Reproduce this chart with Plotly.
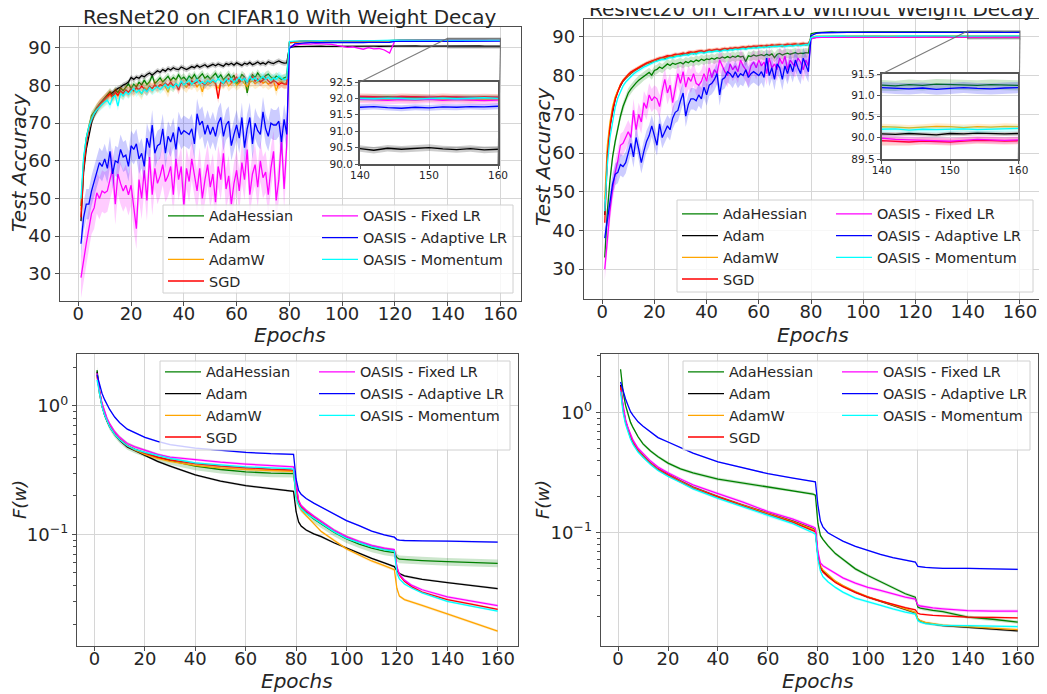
import plotly.graph_objects as go

W, H = 1047, 694
OFF = 8  # page offset of the plot div
FONT = "DejaVu Sans"
TXT = "#262626"
SPINE = "#4d4d4d"
GRID = "#d6d6d6"

SERIES = ["AdaHessian", "Adam", "AdamW", "SGD",
          "OASIS - Fixed LR", "OASIS - Adaptive LR", "OASIS - Momentum"]
COLORS = ["#008000", "#000000", "#FFA500", "#FF0000", "#FF00FF", "#0000FF", "#00FFFF"]

EPOCHS_EARLY = list(range(1, 80))
EPOCHS_LATE = list(range(80, 161, 2))
LOSS_EPOCHS = [1, 2, 3, 4, 5, 6, 8, 10, 13, 16, 20, 25, 30, 40, 50, 60, 70, 78, 79, 80,
               81, 82, 84, 87, 90, 95, 100, 105, 110, 115, 119, 120, 121, 123, 126, 130,
               140, 150, 160]
EPOCH_TICKS = [0, 20, 40, 60, 80, 100, 120, 140, 160]
ACC_TICKS = [30, 40, 50, 60, 70, 80, 90]

# ---------------- Test accuracy, with weight decay ----------------
acc_wd_adahessian_early = [48, 60, 66, 69.5, 72, 73, 74.2, 75, 75.8, 76.5,
                           77.2, 78.3, 77.5, 78.8, 78.1, 79.3, 78.6, 79.5, 80.4, 79.2,
                           80.3, 79.6, 80.8, 80.1, 81.4, 80.2, 81.0, 82.6, 80.5, 81.2,
                           82.0, 80.9, 81.6, 82.4, 81.3, 82.1, 81.5, 82.8, 81.7, 82.2,
                           81.3, 82.5, 81.8, 82.9, 81.6, 82.3, 83.1, 81.9, 82.5, 81.7,
                           82.6, 83.2, 82.0, 82.8, 81.5, 82.4, 83.0, 81.9, 82.7, 80.2,
                           81.5, 82.9, 82.2, 78.0, 81.6, 82.8, 82.1, 83.3, 82.3, 81.8,
                           82.6, 83.0, 82.2, 81.7, 82.5, 82.1, 81.6, 82.0, 82.3]
acc_wd_adam_early = [44, 57, 63, 67, 70, 72, 73.5, 74.6, 75.5, 76.4,
                     77.0, 77.6, 78.2, 78.6, 79.2, 79.5, 80.1, 80.4, 80.9, 82.1,
                     81.6, 82.2, 81.9, 82.6, 82.3, 82.9, 83.3, 82.7, 83.4, 83.9,
                     83.5, 84.2, 83.8, 84.5, 84.1, 84.7, 84.3, 84.2, 84.9, 84.5,
                     84.2, 84.6, 85.0, 84.7, 85.3, 84.8, 85.1, 85.5, 84.9, 85.3,
                     85.6, 85.2, 85.7, 85.4, 85.1, 85.8, 85.5, 85.9, 85.4, 86.0,
                     85.7, 85.3, 85.9, 85.6, 86.1, 85.5, 85.8, 86.2, 85.7, 86.0,
                     85.6, 86.3, 86.0, 85.8, 86.2, 86.5, 86.1, 85.9, 86.0]
acc_wd_adamw_early = [47, 59, 65, 69, 71.5, 72.8, 73.8, 74.8, 75.5, 76.2,
                      76.8, 77.5, 76.5, 77.9, 77.2, 78.3, 77.6, 78.8, 78.1, 79.0,
                      78.4, 79.3, 78.7, 77.6, 79.5, 78.9, 79.8, 79.1, 80.2, 79.4,
                      79.9, 80.5, 79.6, 78.2, 80.3, 79.7, 80.6, 79.8, 80.8, 80.1,
                      79.5, 80.7, 80.2, 81.0, 79.6, 80.5, 78.3, 80.9, 80.2, 80.6,
                      81.1, 80.3, 79.2, 80.8, 80.4, 81.2, 79.9, 80.6, 81.0, 80.1,
                      80.7, 81.3, 80.4, 79.7, 80.9, 81.2, 80.5, 80.9, 81.4, 80.6,
                      81.0, 80.3, 80.8, 81.2, 78.6, 80.7, 81.1, 80.4, 80.8]
acc_wd_sgd_early = [45, 58, 64.5, 68.5, 71, 72.5, 73.8, 74.9, 75.7, 76.3,
                    77.0, 77.8, 76.9, 78.2, 77.4, 78.6, 77.9, 78.8, 78.2, 79.1,
                    78.6, 79.4, 78.9, 79.8, 79.1, 78.4, 79.7, 79.2, 80.1, 79.5,
                    80.2, 79.8, 80.6, 80.0, 80.9, 79.9, 80.4, 78.8, 80.8, 80.2,
                    80.7, 80.1, 81.2, 80.5, 80.9, 81.3, 80.6, 80.2, 81.1, 80.7,
                    81.4, 80.8, 76.5, 81.0, 80.5, 81.3, 81.8, 80.9, 81.5, 82.2,
                    81.0, 81.4, 82.1, 80.8, 81.6, 82.3, 81.1, 81.7, 80.9, 81.5,
                    82.0, 81.2, 80.6, 81.3, 80.9, 80.2, 80.7, 80.4, 80.3]
acc_wd_fixed_early = [29, 34, 38, 42, 46, 47.5, 51.5, 50, 52, 51.5,
                      52, 55, 58, 48.5, 56.5, 54, 52, 53.5, 51, 53.5,
                      47, 42, 55, 50, 57.5, 49.5, 61, 51, 58, 54,
                      56, 59, 54.5, 56, 58.5, 51, 60.5, 55, 58.5, 48,
                      58, 54.5, 60.5, 56, 52, 58, 50, 55, 59, 53,
                      56.5, 49, 58.5, 55, 62, 52.5, 56, 48.5, 54, 57.5,
                      52, 59.5, 55, 63, 51, 56.5, 59, 53, 60, 55.5,
                      57, 51, 58, 62.5, 49.5, 55, 66, 52.5, 64]
acc_wd_adaptive_early = [38, 45, 48.5, 48.5, 52, 54.5, 57, 59.5, 58.5, 60.5,
                         58, 62.5, 56.5, 60, 59.5, 63, 61, 61.5, 58.5, 64,
                         63, 64.5, 60.5, 62, 58.5, 66, 63.5, 69.5, 62, 64,
                         64.5, 68.5, 62, 66.5, 65, 67.5, 63, 69, 67, 68,
                         67.5, 67, 68.5, 64.5, 72.5, 69.5, 70.5, 67, 69.5, 67,
                         69, 66.5, 70, 71.5, 66.5, 69.5, 70.5, 64, 67, 69.5,
                         66, 71.5, 63.5, 68.5, 71.5, 64.5, 70, 68, 67, 73,
                         68.5, 66.5, 70, 69.5, 69.5, 70.5, 65, 71, 67]
acc_wd_momentum_early = [50, 61, 66, 69, 71, 72.5, 73.5, 74.3, 75, 75.6,
                         76.1, 74.8, 76.8, 77.3, 74.5, 77.9, 77.2, 78.3, 77.6, 78.5,
                         79.2, 78.1, 78.8, 77.9, 79.0, 78.3, 79.4, 78.6, 79.1, 79.7,
                         78.9, 79.6, 80.3, 79.2, 80.0, 79.4, 80.5, 79.8, 81.2, 80.1,
                         80.7, 81.4, 80.3, 80.9, 81.6, 80.5, 81.0, 80.4, 81.3, 80.8,
                         81.5, 80.9, 81.8, 81.2, 80.6, 81.7, 81.1, 81.9, 80.8, 81.4,
                         82.1, 81.3, 81.9, 80.9, 82.3, 81.5, 82.0, 81.2, 81.8, 82.4,
                         81.6, 82.2, 81.4, 82.0, 81.6, 82.5, 81.9, 81.5, 81.8]

acc_wd_adahessian_late = [91.3, 91.6, 91.7, 91.75, 91.8, 91.78, 91.82, 91.85, 91.8, 91.83,
                          91.86, 91.84, 91.88, 91.85, 91.87, 91.9, 91.86, 91.88, 91.9, 91.87,
                          92.0, 92.02, 92.04, 92.01, 92.03, 92.05, 92.02, 92.04, 92.01, 92.03,
                          92.02, 92.04, 92.05, 92.02, 92.04, 92.03, 92.01, 92.03, 92.04, 92.02, 92.03]
acc_wd_adam_late = [90.1, 90.3, 90.35, 90.4, 90.35, 90.4, 90.42, 90.38, 90.4, 90.45,
                    90.4, 90.43, 90.38, 90.42, 90.4, 90.45, 90.41, 90.39, 90.43, 90.4,
                    90.46, 90.44, 90.47, 90.45, 90.48, 90.44, 90.46, 90.47, 90.44, 90.46,
                    90.47, 90.42, 90.48, 90.45, 90.47, 90.5, 90.46, 90.44, 90.47, 90.43, 90.45]
acc_wd_adamw_late = [91.2, 91.5, 91.6, 91.65, 91.7, 91.68, 91.72, 91.7, 91.75, 91.72,
                     91.74, 91.7, 91.73, 91.76, 91.72, 91.75, 91.74, 91.77, 91.73, 91.75,
                     91.95, 91.97, 91.96, 91.98, 91.95, 91.97, 91.99, 91.96, 91.98, 91.95,
                     91.97, 91.96, 91.98, 91.97, 91.95, 91.98, 91.96, 91.97, 91.95, 91.98, 91.97]
acc_wd_sgd_late = [91.4, 91.65, 91.72, 91.78, 91.8, 91.82, 91.79, 91.84, 91.81, 91.85,
                   91.83, 91.86, 91.82, 91.85, 91.84, 91.87, 91.83, 91.86, 91.85, 91.88,
                   92.05, 92.06, 92.04, 92.07, 92.05, 92.03, 92.06, 92.05, 92.07, 92.04,
                   92.06, 92.05, 92.03, 92.06, 92.05, 92.04, 92.06, 92.05, 92.03, 92.05, 92.04]
acc_wd_fixed_late = [90.3, 90.7, 90.9, 91.0, 90.95, 91.1, 91.0, 91.05, 90.9, 90.6,
                     90.3, 90.1, 90.2, 89.9, 89.6, 90.0, 89.7, 89.8, 89.4, 88.6,
                     91.9, 91.95, 91.97, 91.93, 91.96, 91.98, 91.94, 91.96, 91.95, 91.93,
                     91.97, 91.95, 91.94, 91.96, 91.95, 91.97, 91.94, 91.96, 91.95, 91.93, 91.95]
acc_wd_adaptive_late = [89.8, 91.0, 91.2, 91.3, 91.35, 91.3, 91.38, 91.35, 91.4, 91.37,
                        91.42, 91.38, 91.4, 91.43, 91.39, 91.41, 91.44, 91.4, 91.42, 91.45,
                        91.7, 91.72, 91.7, 91.74, 91.71, 91.73, 91.7, 91.72, 91.74, 91.71,
                        91.73, 91.75, 91.72, 91.7, 91.73, 91.71, 91.74, 91.73, 91.75, 91.74, 91.76]
acc_wd_momentum_late = [91.6, 91.75, 91.8, 91.83, 91.85, 91.82, 91.86, 91.84, 91.87, 91.85,
                        91.88, 91.86, 91.84, 91.87, 91.85, 91.88, 91.86, 91.84, 91.87, 91.86,
                        91.98, 92.0, 91.99, 92.01, 91.98, 92.0, 92.02, 91.99, 92.01, 91.98,
                        92.0, 91.99, 92.01, 92.0, 91.98, 92.0, 92.01, 91.99, 92.0, 92.02, 92.0]

acc_wd_band_early = [1.0, 0.7, 1.5, 1.2, 5.5, 4.0, 1.2]
acc_wd_band_late = [0.08, 0.1, 0.08, 0.09, 0.12, 0.09, 0.06]

# ---------------- Test accuracy, without weight decay ----------------
acc_nowd_adahessian_early = [33, 45, 53, 59, 63, 66.5, 69.5, 72, 74, 75.5,
                             76.5, 77.4, 78.1, 78.8, 79.3, 79.9, 80.4, 80.8, 80.1, 81.3,
                             81.6, 82.2, 81.8, 82.5, 83.0, 82.6, 83.2, 82.9, 83.1, 83.4,
                             83.0, 83.6, 83.3, 83.8, 83.5, 84.0, 83.7, 84.2, 83.9, 84.3,
                             84.1, 84.5, 84.2, 84.6, 84.4, 84.8, 84.5, 84.9, 84.6, 85.0,
                             84.7, 85.1, 84.8, 85.0, 83.6, 85.1, 84.9, 85.3, 85.0, 85.2,
                             85.4, 85.1, 85.5, 85.2, 85.6, 84.6, 85.5, 85.7, 85.3, 85.6,
                             85.8, 85.5, 85.7, 85.9, 85.6, 85.8, 85.7, 85.9, 85.8]
acc_nowd_adam_early = [44, 60, 67, 71, 74, 76, 77.5, 78.6, 79.3, 80.0,
                       80.6, 81.1, 81.5, 82.0, 82.4, 82.7, 83.1, 83.3, 83.6, 83.9,
                       84.1, 84.3, 84.5, 84.4, 84.8, 85.0, 84.9, 85.2, 85.4, 85.3,
                       85.6, 85.5, 85.8, 85.9, 85.7, 86.0, 86.1, 86.2, 86.0, 86.3,
                       86.4, 86.3, 86.5, 86.6, 86.4, 86.7, 86.8, 86.6, 86.9, 86.8,
                       87.0, 86.9, 87.1, 87.2, 87.0, 87.3, 87.2, 87.4, 87.3, 87.4,
                       87.5, 87.4, 87.6, 87.5, 87.7, 87.6, 87.7, 87.8, 87.6, 87.8,
                       87.9, 87.8, 87.9, 88.0, 87.9, 88.0, 88.1, 88.0, 88.1]
acc_nowd_adamw_early = [48, 62, 68, 72, 74.5, 76.3, 77.7, 78.8, 79.5, 80.2,
                        80.8, 81.2, 81.7, 82.1, 82.5, 82.8, 83.0, 83.4, 83.7, 83.8,
                        84.2, 84.4, 84.3, 84.7, 84.9, 84.8, 85.1, 85.3, 85.2, 85.5,
                        85.7, 85.6, 85.9, 85.8, 86.1, 86.0, 86.2, 86.3, 86.1, 86.4,
                        86.5, 86.4, 86.6, 86.5, 86.7, 86.8, 86.7, 86.9, 86.8, 87.0,
                        87.1, 86.9, 87.2, 87.1, 87.3, 87.2, 87.4, 87.3, 87.5, 87.4,
                        87.6, 87.5, 87.7, 87.6, 87.8, 87.7, 87.8, 87.9, 87.7, 87.9,
                        88.0, 87.9, 88.0, 88.1, 87.9, 88.1, 88.2, 88.0, 88.1]
acc_nowd_sgd_early = [42, 59, 66.5, 71, 73.8, 76, 77.6, 78.7, 79.6, 80.3,
                      80.9, 81.3, 81.8, 82.2, 82.6, 82.9, 83.2, 83.5, 83.8, 84.1,
                      84.3, 84.5, 84.6, 84.8, 85.1, 85.0, 85.3, 85.5, 85.4, 85.7,
                      85.8, 85.6, 86.0, 86.1, 85.9, 86.2, 86.3, 86.4, 86.2, 86.5,
                      86.6, 86.5, 86.7, 86.8, 86.6, 86.9, 87.0, 86.8, 87.1, 87.0,
                      87.2, 87.1, 87.3, 87.4, 87.2, 87.5, 87.4, 87.6, 87.5, 87.6,
                      87.7, 87.6, 87.8, 87.7, 87.9, 87.8, 87.9, 88.0, 87.8, 88.0,
                      88.1, 88.0, 88.1, 88.2, 88.0, 88.2, 88.3, 88.1, 88.2]
acc_nowd_fixed_early = [30, 38, 45, 50.5, 55, 58, 62, 62.5, 64, 65.5,
                        64, 71, 66, 70, 68, 73, 71.5, 75, 73.5, 74.5,
                        74, 72, 76, 79, 75.5, 77.5, 73, 76.5, 80.5, 78,
                        81, 77, 79.5, 78.5, 80.5, 78, 77.5, 78.5, 80.5, 78.5,
                        82, 79.5, 81.5, 80.5, 84, 82.5, 81, 80, 83, 81.5,
                        82.5, 81, 84, 82.5, 81.5, 80, 82.5, 83.5, 82, 84,
                        82.5, 83.5, 80.5, 84.5, 82, 83, 81.5, 84.5, 83, 85,
                        81.5, 84, 83, 82.5, 84.5, 83.5, 81.5, 84, 82.5]
acc_nowd_adaptive_early = [38, 43, 48, 52, 54.5, 55, 57, 56.5, 57.5, 60,
                           62.5, 59, 64, 61, 57.5, 60.5, 63, 64.5, 67, 64.5,
                           62, 67.5, 64, 65.5, 67, 66, 69, 70.5, 71, 73.5,
                           75.5, 69.5, 72.5, 74, 74, 73.5, 75, 74, 77, 75,
                           77.5, 78, 79, 80.5, 75, 79, 79.5, 81, 80.5, 79.5,
                           81, 79.5, 80.5, 80, 81.5, 79.5, 80.5, 81, 80.5, 80,
                           81, 79.5, 84.5, 80, 82, 79, 83, 82, 79, 82.5,
                           80.5, 83, 81, 84, 82, 80.5, 84.5, 82.5, 81]
acc_nowd_momentum_early = [45, 57, 64, 68.5, 71.8, 74.2, 76, 77.3, 78.3, 79.1,
                           79.8, 80.4, 80.9, 81.4, 81.8, 82.2, 82.5, 82.9, 83.2, 83.5,
                           83.7, 84.0, 84.2, 84.1, 84.5, 84.7, 84.6, 84.9, 85.1, 85.0,
                           85.3, 85.4, 85.2, 85.6, 85.7, 85.5, 85.9, 86.0, 85.8, 86.1,
                           86.2, 86.1, 86.3, 86.4, 86.2, 86.5, 86.6, 86.4, 86.7, 86.6,
                           86.8, 86.7, 86.9, 87.0, 86.8, 87.1, 87.0, 87.2, 87.1, 87.3,
                           87.2, 87.4, 87.3, 87.5, 87.4, 87.6, 87.5, 87.6, 87.7, 87.5,
                           87.7, 87.8, 87.6, 87.8, 87.9, 87.7, 87.9, 88.0, 87.9]

acc_nowd_adahessian_late = [90.8, 91.1, 91.2, 91.22, 91.25, 91.23, 91.26, 91.24, 91.27, 91.25,
                            91.23, 91.26, 91.24, 91.27, 91.25, 91.24, 91.26, 91.23, 91.25, 91.27,
                            91.25, 91.24, 91.26, 91.23, 91.25, 91.24, 91.27, 91.25, 91.23, 91.26,
                            91.24, 91.22, 91.25, 91.23, 91.26, 91.25, 91.24, 91.23, 91.25, 91.24, 91.23]
acc_nowd_adam_late = [89.7, 90.0, 90.05, 90.07, 90.08, 90.07, 90.09, 90.08, 90.1, 90.07,
                      90.09, 90.08, 90.1, 90.09, 90.07, 90.1, 90.08, 90.09, 90.11, 90.08,
                      90.1, 90.08, 90.09, 90.07, 90.1, 90.08, 90.09, 90.11, 90.08, 90.1,
                      90.09, 90.08, 90.1, 90.09, 90.07, 90.1, 90.09, 90.11, 90.1, 90.09, 90.1]
acc_nowd_adamw_late = [89.9, 90.15, 90.2, 90.22, 90.24, 90.23, 90.25, 90.24, 90.26, 90.23,
                       90.25, 90.24, 90.26, 90.25, 90.23, 90.26, 90.24, 90.25, 90.27, 90.24,
                       90.25, 90.23, 90.22, 90.26, 90.27, 90.25, 90.24, 90.26, 90.25, 90.24,
                       90.26, 90.25, 90.23, 90.25, 90.27, 90.26, 90.24, 90.26, 90.25, 90.27, 90.26]
acc_nowd_sgd_late = [89.6, 89.85, 89.88, 89.9, 89.92, 89.9, 89.93, 89.91, 89.92, 89.9,
                     89.93, 89.91, 89.92, 89.94, 89.91, 89.93, 89.92, 89.9, 89.93, 89.92,
                     89.92, 89.93, 89.94, 89.92, 89.91, 89.93, 89.92, 89.94, 89.93, 89.92,
                     89.93, 89.91, 89.9, 89.92, 89.91, 89.9, 89.92, 89.94, 89.93, 89.92, 89.93]
acc_nowd_fixed_late = [89.5, 89.8, 89.88, 89.9, 89.92, 89.91, 89.93, 89.92, 89.94, 89.91,
                       89.93, 89.92, 89.94, 89.93, 89.91, 89.94, 89.92, 89.93, 89.95, 89.92,
                       89.94, 89.93, 89.95, 89.93, 89.92, 89.94, 89.96, 89.95, 89.93, 89.94,
                       89.99, 89.96, 89.95, 89.94, 89.93, 89.92, 89.94, 89.96, 89.95, 89.94, 89.95]
acc_nowd_adaptive_late = [90.3, 90.9, 91.05, 91.1, 91.12, 91.14, 91.12, 91.15, 91.13, 91.16,
                          91.14, 91.12, 91.15, 91.17, 91.14, 91.16, 91.13, 91.15, 91.17, 91.14,
                          91.16, 91.15, 91.14, 91.16, 91.15, 91.17, 91.16, 91.15, 91.17, 91.16,
                          91.18, 91.16, 91.15, 91.17, 91.14, 91.16, 91.18, 91.16, 91.15, 91.17, 91.18]
acc_nowd_momentum_late = [89.8, 90.1, 90.15, 90.18, 90.2, 90.19, 90.21, 90.2, 90.22, 90.19,
                          90.21, 90.2, 90.22, 90.21, 90.19, 90.22, 90.2, 90.21, 90.23, 90.2,
                          90.22, 90.2, 90.21, 90.23, 90.21, 90.2, 90.22, 90.2, 90.19, 90.21,
                          90.2, 90.21, 90.18, 90.2, 90.19, 90.2, 90.21, 90.19, 90.2, 90.21, 90.22]

acc_nowd_band_early = [1.2, 0.4, 0.5, 0.5, 3.0, 2.8, 0.5]
acc_nowd_band_late = [0.12, 0.05, 0.07, 0.08, 0.08, 0.13, 0.07]

# ---------------- Training loss F(w), with weight decay ----------------
loss_wd_adahessian = [1.9, 1.3, 1.02, 0.87, 0.77, 0.7, 0.61, 0.55, 0.49, 0.46, 0.43,
                      0.4, 0.375, 0.34, 0.32, 0.307, 0.30, 0.298, 0.297, 0.2, 0.172, 0.16,
                      0.147, 0.132, 0.12, 0.104, 0.092, 0.084, 0.078, 0.074, 0.072, 0.066,
                      0.064, 0.0635, 0.063, 0.0625, 0.0612, 0.060, 0.0595]
loss_wd_adam = [1.85, 1.25, 1.0, 0.85, 0.76, 0.69, 0.6, 0.54, 0.48, 0.45, 0.415,
                0.37, 0.34, 0.29, 0.26, 0.24, 0.227, 0.218, 0.216, 0.15, 0.125, 0.116,
                0.108, 0.101, 0.096, 0.086, 0.078, 0.071, 0.065, 0.060, 0.056, 0.052,
                0.0495, 0.0475, 0.046, 0.0445, 0.042, 0.040, 0.0378]
loss_wd_adamw = [1.75, 1.25, 1.0, 0.86, 0.77, 0.7, 0.61, 0.55, 0.49, 0.455, 0.42,
                 0.39, 0.37, 0.345, 0.33, 0.32, 0.313, 0.31, 0.305, 0.21, 0.17, 0.155,
                 0.14, 0.122, 0.105, 0.09, 0.077, 0.069, 0.062, 0.057, 0.053, 0.038,
                 0.033, 0.031, 0.0295, 0.028, 0.024, 0.0205, 0.0176]
loss_wd_sgd = [1.7, 1.25, 1.0, 0.86, 0.77, 0.7, 0.61, 0.55, 0.49, 0.46, 0.43,
               0.4, 0.38, 0.355, 0.34, 0.33, 0.322, 0.318, 0.315, 0.24, 0.18, 0.165,
               0.152, 0.137, 0.124, 0.107, 0.095, 0.087, 0.081, 0.077, 0.075, 0.055,
               0.048, 0.043, 0.039, 0.0355, 0.031, 0.0285, 0.026]
loss_wd_fixed = [1.8, 1.3, 1.05, 0.9, 0.8, 0.73, 0.63, 0.57, 0.51, 0.48, 0.45,
                 0.42, 0.40, 0.38, 0.365, 0.353, 0.343, 0.338, 0.335, 0.25, 0.185, 0.168,
                 0.154, 0.139, 0.126, 0.108, 0.096, 0.088, 0.082, 0.078, 0.076, 0.056,
                 0.049, 0.044, 0.040, 0.037, 0.0325, 0.030, 0.0278]
loss_wd_adaptive = [1.75, 1.45, 1.25, 1.12, 1.02, 0.94, 0.82, 0.74, 0.66, 0.62, 0.57,
                    0.53, 0.50, 0.47, 0.45, 0.435, 0.425, 0.42, 0.42, 0.27, 0.22, 0.205,
                    0.19, 0.175, 0.163, 0.145, 0.128, 0.117, 0.106, 0.099, 0.095, 0.091,
                    0.090, 0.0895, 0.089, 0.0888, 0.0885, 0.0875, 0.087]
loss_wd_momentum = [1.6, 1.2, 0.98, 0.85, 0.76, 0.69, 0.6, 0.545, 0.49, 0.46, 0.435,
                    0.41, 0.39, 0.36, 0.345, 0.335, 0.33, 0.325, 0.32, 0.19, 0.17, 0.158,
                    0.146, 0.133, 0.121, 0.105, 0.093, 0.086, 0.080, 0.076, 0.074, 0.05,
                    0.045, 0.041, 0.038, 0.035, 0.030, 0.0275, 0.0252]
loss_wd_band_rel = [0.07, 0.02, 0.025, 0.02, 0.025, 0.015, 0.02]

# ---------------- Training loss F(w), without weight decay ----------------
loss_nowd_adahessian = [2.3, 1.5, 1.15, 0.95, 0.83, 0.75, 0.63, 0.55, 0.48, 0.43, 0.38,
                        0.34, 0.315, 0.28, 0.26, 0.24, 0.225, 0.21, 0.205, 0.12, 0.095, 0.088,
                        0.078, 0.067, 0.06, 0.05, 0.044, 0.039, 0.035, 0.031, 0.029, 0.024,
                        0.0235, 0.023, 0.0225, 0.022, 0.0198, 0.019, 0.018]
loss_nowd_adam = [1.7, 1.1, 0.85, 0.72, 0.63, 0.57, 0.49, 0.44, 0.38, 0.34, 0.305,
                  0.27, 0.24, 0.2, 0.17, 0.145, 0.125, 0.108, 0.105, 0.065, 0.052, 0.048,
                  0.044, 0.039, 0.036, 0.032, 0.029, 0.027, 0.0248, 0.023, 0.0215, 0.019,
                  0.0183, 0.0177, 0.0172, 0.0168, 0.0163, 0.0158, 0.0152]
loss_nowd_adamw = [1.6, 1.05, 0.83, 0.71, 0.62, 0.565, 0.485, 0.435, 0.378, 0.338, 0.303,
                   0.268, 0.238, 0.199, 0.169, 0.144, 0.124, 0.107, 0.104, 0.066, 0.053, 0.049,
                   0.045, 0.0395, 0.0362, 0.0322, 0.0292, 0.0272, 0.025, 0.0232, 0.0217, 0.0192,
                   0.0185, 0.0179, 0.0174, 0.017, 0.0165, 0.016, 0.0156]
loss_nowd_sgd = [1.65, 1.08, 0.84, 0.71, 0.62, 0.56, 0.48, 0.43, 0.375, 0.335, 0.30,
                 0.265, 0.235, 0.197, 0.167, 0.142, 0.122, 0.104, 0.102, 0.064, 0.051, 0.047,
                 0.043, 0.0385, 0.0355, 0.0318, 0.029, 0.027, 0.0252, 0.0238, 0.0228, 0.0213,
                 0.021, 0.0207, 0.0205, 0.0203, 0.0198, 0.0197, 0.0195]
loss_nowd_fixed = [1.55, 1.12, 0.88, 0.75, 0.655, 0.59, 0.505, 0.455, 0.395, 0.352, 0.315,
                   0.28, 0.25, 0.212, 0.18, 0.15, 0.13, 0.112, 0.109, 0.07, 0.056, 0.053,
                   0.05, 0.046, 0.042, 0.038, 0.035, 0.033, 0.031, 0.029, 0.028, 0.025,
                   0.0245, 0.024, 0.0236, 0.0232, 0.0224, 0.0222, 0.0222]
loss_nowd_adaptive = [1.8, 1.5, 1.3, 1.15, 1.02, 0.95, 0.84, 0.77, 0.69, 0.62, 0.57,
                      0.51, 0.46, 0.39, 0.35, 0.31, 0.285, 0.268, 0.265, 0.17, 0.125, 0.112,
                      0.1, 0.092, 0.085, 0.077, 0.071, 0.066, 0.062, 0.059, 0.057, 0.0525,
                      0.052, 0.0515, 0.051, 0.0505, 0.0505, 0.050, 0.0495]
loss_nowd_momentum = [1.5, 1.0, 0.8, 0.68, 0.6, 0.545, 0.47, 0.425, 0.37, 0.33, 0.295,
                      0.262, 0.232, 0.193, 0.164, 0.138, 0.119, 0.1, 0.097, 0.06, 0.048, 0.043,
                      0.039, 0.035, 0.032, 0.0285, 0.0265, 0.025, 0.0232, 0.0218, 0.021, 0.0185,
                      0.018, 0.0175, 0.0172, 0.0169, 0.0168, 0.0166, 0.0165]
loss_nowd_band_rel = [0.03, 0.025, 0.025, 0.02, 0.03, 0.015, 0.025]

ACC_WD_EARLY = [acc_wd_adahessian_early, acc_wd_adam_early, acc_wd_adamw_early, acc_wd_sgd_early,
                acc_wd_fixed_early, acc_wd_adaptive_early, acc_wd_momentum_early]
ACC_WD_LATE = [acc_wd_adahessian_late, acc_wd_adam_late, acc_wd_adamw_late, acc_wd_sgd_late,
               acc_wd_fixed_late, acc_wd_adaptive_late, acc_wd_momentum_late]
ACC_NOWD_EARLY = [acc_nowd_adahessian_early, acc_nowd_adam_early, acc_nowd_adamw_early,
                  acc_nowd_sgd_early, acc_nowd_fixed_early, acc_nowd_adaptive_early,
                  acc_nowd_momentum_early]
ACC_NOWD_LATE = [acc_nowd_adahessian_late, acc_nowd_adam_late, acc_nowd_adamw_late,
                 acc_nowd_sgd_late, acc_nowd_fixed_late, acc_nowd_adaptive_late,
                 acc_nowd_momentum_late]
LOSS_WD = [loss_wd_adahessian, loss_wd_adam, loss_wd_adamw, loss_wd_sgd, loss_wd_fixed,
           loss_wd_adaptive, loss_wd_momentum]
LOSS_NOWD = [loss_nowd_adahessian, loss_nowd_adam, loss_nowd_adamw, loss_nowd_sgd,
             loss_nowd_fixed, loss_nowd_adaptive, loss_nowd_momentum]


# ---------------- layout helpers (target screen pixels) ----------------
def fx(px):
    return (px - OFF) / W


def fy(py):
    return 1 - (py - OFF) / H


def rgba(hexc, a):
    h = hexc.lstrip("#")
    return "rgba(%d,%d,%d,%.2f)" % (int(h[0:2], 16), int(h[2:4], 16), int(h[4:6], 16), a)


fig = go.Figure()


def add_band_line(xs, ys, lo, hi, color, xa, ya, name=None, legend=None, lw=1.3):
    n = min(len(xs), len(ys), len(lo), len(hi))
    xs, ys, lo, hi = xs[:n], ys[:n], lo[:n], hi[:n]
    fig.add_trace(go.Scatter(x=xs + xs[::-1], y=hi + lo[::-1], mode="lines", fill="toself",
                             fillcolor=rgba(color, 0.2), line=dict(width=0),
                             hoverinfo="skip", showlegend=False, xaxis=xa, yaxis=ya))
    kw = dict(legend=legend) if legend else {}
    fig.add_trace(go.Scatter(x=xs, y=ys, mode="lines", line=dict(color=color, width=lw),
                             name=name if name else "line", showlegend=name is not None,
                             xaxis=xa, yaxis=ya, **kw))


def acc_panel(early, late, b_e, b_l, xa, ya, legs, inset=None):
    for i in range(7):
        ys = list(early[i]) + list(late[i])
        xs = EPOCHS_EARLY[:len(early[i])] + EPOCHS_LATE[:len(late[i])]
        bands = [b_e[i]] * len(early[i]) + [b_l[i]] * len(late[i])
        lo = [v - b for v, b in zip(ys, bands)]
        hi = [v + b for v, b in zip(ys, bands)]
        leg = legs[0] if i < 4 else legs[1]
        add_band_line(xs, ys, lo, hi, COLORS[i], xa, ya, name=SERIES[i], legend=leg)
    if inset:
        for i in range(7):
            ys = list(late[i])
            xs = EPOCHS_LATE[:len(ys)]
            lo = [v - b_l[i] for v in ys]
            hi = [v + b_l[i] for v in ys]
            add_band_line(xs, ys, lo, hi, COLORS[i], inset[0], inset[1])


def loss_panel(data, rel, xa, ya, legs):
    for i in range(7):
        ys = list(data[i])
        xs = LOSS_EPOCHS[:len(ys)]
        lo = [v * (1 - rel[i]) for v in ys]
        hi = [v * (1 + rel[i]) for v in ys]
        leg = legs[0] if i < 4 else legs[1]
        add_band_line(xs, ys, lo, hi, COLORS[i], xa, ya, name=SERIES[i], legend=leg)


acc_panel(ACC_WD_EARLY, ACC_WD_LATE, acc_wd_band_early, acc_wd_band_late, "x", "y",
          ("legend", "legend2"), inset=("x5", "y5"))
acc_panel(ACC_NOWD_EARLY, ACC_NOWD_LATE, acc_nowd_band_early, acc_nowd_band_late, "x2", "y2",
          ("legend3", "legend4"), inset=("x6", "y6"))
loss_panel(LOSS_WD, loss_wd_band_rel, "x3", "y3", ("legend5", "legend6"))
loss_panel(LOSS_NOWD, loss_nowd_band_rel, "x4", "y4", ("legend7", "legend8"))

# panel geometry in target pixels: left, right, top, bottom
P1 = (60, 521.4, 27, 301)
P2 = (584, 1040.7, 19, 299)
P3 = (77, 517.7, 354, 646)
P4 = (600.7, 1037.6, 354, 646)
I1 = (360, 498, 82, 164)
I2 = (881.7, 1018.3, 74, 159)
XR = [-6.95, 167.95]

tickfont = dict(family=FONT, size=18, color=TXT)


def xax(p, anchor, **kw):
    d = dict(domain=[fx(p[0]), fx(p[1])], range=XR, anchor=anchor, tickmode="array",
             tickvals=EPOCH_TICKS, showgrid=True, gridcolor=GRID, gridwidth=1,
             showline=True, mirror=True, linecolor=SPINE, linewidth=1.3, ticks="outside",
             ticklen=4, tickcolor=SPINE, zeroline=False, tickfont=tickfont, automargin=False,
             ticklabelstandoff=-8)
    d.update(kw)
    return d


def yax(p, anchor, **kw):
    d = dict(domain=[fy(p[3]), fy(p[2])], anchor=anchor, showgrid=True, gridcolor=GRID,
             gridwidth=1, showline=True, mirror=True, linecolor=SPINE, linewidth=1.3,
             ticks="outside", ticklen=4, tickcolor=SPINE, zeroline=False, tickfont=tickfont,
             automargin=False)
    d.update(kw)
    return d


logminor = dict(ticks="outside", ticklen=2.5, tickcolor=SPINE, dtick="D1", showgrid=False)
logticks = dict(type="log", tickmode="array", tickvals=[0.1, 1],
                ticktext=["10<sup>\u22121</sup>", "10<sup>0</sup>"], minor=logminor)
insetfont = dict(family=FONT, size=10.5, color=TXT)


def inset_axes(p, xr, yr, anchor_x, anchor_y):
    xa = dict(domain=[fx(p[0]), fx(p[1])], range=xr, anchor=anchor_y, tickmode="array",
              tickvals=[140, 150, 160], showgrid=True, gridcolor=GRID, showline=True,
              mirror=True, linecolor="#555555", linewidth=2, ticks="outside", ticklen=3,
              tickcolor="#555555", zeroline=False, tickfont=insetfont, automargin=False,
              ticklabelstandoff=-3)
    ya = dict(domain=[fy(p[3]), fy(p[2])], range=yr, anchor=anchor_x, dtick=0.5,
              tickformat=".1f", showgrid=True, gridcolor=GRID, showline=True, mirror=True,
              linecolor="#555555", linewidth=2, ticks="outside", ticklen=3,
              tickcolor="#555555", zeroline=False, tickfont=insetfont, automargin=False)
    return xa, ya


x5, y5 = inset_axes(I1, [140, 160], [90, 92.5], "x5", "y5")
x6, y6 = inset_axes(I2, [140, 160], [89.5, 91.5], "x6", "y6")

fig.update_layout(
    template="none",
    width=W, height=H, margin=dict(l=0, r=0, t=0, b=0, autoexpand=False),
    paper_bgcolor="white", plot_bgcolor="white",
    font=dict(family=FONT, color=TXT),
    xaxis=xax(P1, "y"), yaxis=yax(P1, "x", range=[22.8, 95.5], tickvals=ACC_TICKS, tickmode="array"),
    xaxis2=xax(P2, "y2"), yaxis2=yax(P2, "x2", range=[22.3, 94.6], tickvals=ACC_TICKS, tickmode="array"),
    xaxis3=xax(P3, "y3"), yaxis3=yax(P3, "x3", range=[-1.87, 0.405], **logticks),
    xaxis4=xax(P4, "y4"), yaxis4=yax(P4, "x4", range=[-1.944, 0.489], **logticks),
    xaxis5=x5, yaxis5=y5, xaxis6=x6, yaxis6=y6,
)

# legends: two columns per panel, inside a shared box
LEG_BOX = [(163, 205, 513, 293), (677, 200, 1033, 292), (160, 361, 510, 450), (683, 361, 1030, 450)]
COL_STEP = 154
LEG_DX, LEG_DY = 0, -5
legfont = dict(family=FONT, size=14.4, color=TXT)
names = ["legend", "legend2", "legend3", "legend4", "legend5", "legend6", "legend7", "legend8"]
leg_layout = {}
shapes = []
for k, (l, t, r, b) in enumerate(LEG_BOX):
    dy = LEG_DY + (3 if k == 1 else 0)
    for c in range(2):
        leg_layout[names[2 * k + c]] = dict(
            x=fx(l + LEG_DX + c * COL_STEP), y=fy(t + dy), xanchor="left", yanchor="top",
            bgcolor="rgba(0,0,0,0)", borderwidth=0, font=legfont, itemwidth=36,
            orientation="v", traceorder="normal")
    shapes.append(dict(type="rect", xref="paper", yref="paper", x0=fx(l), x1=fx(r),
                       y0=fy(b), y1=fy(t), line=dict(color="#d0d0d0", width=1),
                       fillcolor="rgba(255,255,255,0.8)", layer="above"))
fig.update_layout(**leg_layout)

# white background behind the insets
shapes.append(dict(type="rect", xref="x5", yref="y5", x0=140, x1=160, y0=90, y1=92.5,
                   fillcolor="white", line=dict(width=0), layer="below"))
shapes.append(dict(type="rect", xref="x6", yref="y6", x0=140, x1=160, y0=89.5, y1=91.5,
                   fillcolor="white", line=dict(width=0), layer="below"))


def data_to_paper(p, xr, yr, x, y):
    px = p[0] + (x - xr[0]) / (xr[1] - xr[0]) * (p[1] - p[0])
    py = p[3] - (y - yr[0]) / (yr[1] - yr[0]) * (p[3] - p[2])
    return fx(px), fy(py)


ZOOMC = "rgba(110,110,110,0.9)"
for (P, yr, I, zy0, zy1, xa, ya) in [(P1, [22.8, 95.5], I1, 90, 92.5, "x", "y"),
                                     (P2, [22.3, 94.6], I2, 89.5, 91.5, "x2", "y2")]:
    shapes.append(dict(type="rect", xref=xa, yref=ya, x0=140, x1=160, y0=zy0, y1=zy1,
                       line=dict(color=ZOOMC, width=1.2), layer="above"))
    ax0, ay0 = data_to_paper(P, XR, yr, 140, zy1)
    shapes.append(dict(type="line", xref="paper", yref="paper", x0=fx(I[0]), y0=fy(I[2]),
                       x1=ax0, y1=ay0, line=dict(color=ZOOMC, width=1.1), layer="above"))
    ax1, ay1 = data_to_paper(P, XR, yr, 160, zy0)
    shapes.append(dict(type="line", xref="paper", yref="paper", x0=fx(I[1]), y0=fy(I[3]),
                       x1=ax1, y1=ay1, line=dict(color=ZOOMC, width=1.1), layer="above"))
fig.update_layout(shapes=shapes)

# titles and axis labels
ann = []


def text(s, x, y, size, angle=0):
    ann.append(dict(text=s, x=fx(x), y=fy(y), xref="paper", yref="paper", showarrow=False,
                    xanchor="center", yanchor="middle", textangle=angle,
                    font=dict(family=FONT, size=size, color=TXT)))


text("ResNet20 on CIFAR10 With Weight Decay", 290, 17, 20)
text("ResNet20 on CIFAR10 Without Weight Decay", 812, 9, 20)
text("<i>Test Accuracy</i>", 19, 163, 20, -90)
text("<i>Test Accuracy</i>", 543, 157, 20, -90)
text("<i>F(w)</i>", 19, 500, 18, -90)
text("<i>F(w)</i>", 542, 500, 18, -90)
text("<i>Epochs</i>", 290, 335, 20)
text("<i>Epochs</i>", 813, 335, 20)
text("<i>Epochs</i>", 297, 681, 20)
text("<i>Epochs</i>", 818, 681, 20)
fig.update_layout(annotations=ann)

fig.write_html("out.html")
